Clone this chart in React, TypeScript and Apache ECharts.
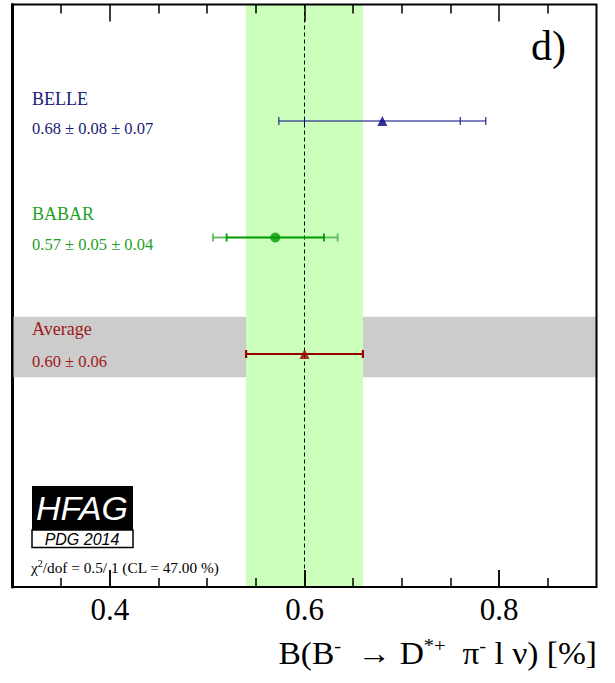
import React, { useEffect, useRef } from 'react';
import * as echarts from 'echarts';

// ---- data ----
const experiments = ['BELLE', 'BABAR', 'Average'];
const centralValues = [0.68, 0.57, 0.6];
const statErrors = [0.08, 0.05, 0.06];
const systErrors = [0.07, 0.04, 0];
const rowPositions = [4, 3, 2];
const majorTicks = [0.4, 0.6, 0.8];
const minorTicks = [0.35, 0.45, 0.5, 0.55, 0.65, 0.7, 0.75, 0.85];
const averageRowBand = [1.8, 2.32];
const xRange = [0.3, 0.9];
const yRange = [0, 5];
const chi2Value = '0.5';
const dof = '1';
const clValue = '47.00';

// ---- styles ----
const mainColors = ['#000080', '#009900', '#990000'];
const outerColors = ['#000080', '#5cbc5c', '#b01515'];
const textColors = ['#1a1a78', '#1f9f1f', '#a01818'];
const markerSymbols = ['triangle', 'circle', 'triangle'];
const lineWidths = [1, 1.8, 2];
const SERIF = '"Liberation Serif", "Times New Roman", serif';
const SANS = '"Liberation Sans", Arial, sans-serif';
const GRID_H = 582.5;
const MAJOR_LEN = 17;
const MINOR_LEN = 9;

const totalErrors = statErrors.map((s, i) => Math.sqrt(s * s + systErrors[i] * systErrors[i]));
const avgIdx = experiments.indexOf('Average');

export default function App() {
  const ref = useRef<HTMLDivElement>(null);
  useEffect(() => {
    if (!ref.current) return;
    const chart = echarts.init(ref.current, null, { renderer: 'svg' });

    const errData = experiments.map((_, i) => [
      centralValues[i],
      rowPositions[i],
      statErrors[i],
      totalErrors[i],
    ]);

    const unitsPerPx = (yRange[1] - yRange[0]) / GRID_H;
    const tickLines: any[] = [];
    const addTicks = (values: number[], len: number) => {
      values.forEach((v) => {
        tickLines.push([{ coord: [v, yRange[0]] }, { coord: [v, yRange[0] + len * unitsPerPx] }]);
        tickLines.push([{ coord: [v, yRange[1]] }, { coord: [v, yRange[1] - len * unitsPerPx] }]);
      });
    };
    addTicks(majorTicks, MAJOR_LEN);
    addTicks(minorTicks, MINOR_LEN);

    const labelGraphics: any[] = [];
    experiments.forEach((name, i) => {
      const nameY = [99.5, 214.5, 330][i];
      const valY = [129, 245.5, 362][i];
      const valText =
        systErrors[i] > 0
          ? `${centralValues[i].toFixed(2)} ± ${statErrors[i].toFixed(2)} ± ${systErrors[i].toFixed(2)}`
          : `${centralValues[i].toFixed(2)} ± ${statErrors[i].toFixed(2)}`;
      labelGraphics.push({
        type: 'text',
        left: 32,
        top: nameY - 10,
        style: { text: name, fontSize: 18, fontFamily: SERIF, fill: textColors[i] },
        z: 100,
      });
      labelGraphics.push({
        type: 'text',
        left: 32,
        top: valY - 9.5,
        style: { text: valText, fontSize: 16.5, fontFamily: SERIF, fill: textColors[i] },
        z: 100,
      });
    });

    chart.setOption({
      animation: false,
      grid: {
        left: 12.5,
        top: 4.5,
        width: 584,
        height: GRID_H,
        show: true,
        borderColor: '#000',
        borderWidth: 2,
        backgroundColor: 'transparent',
        z: 10,
      },
      xAxis: {
        type: 'value',
        min: xRange[0],
        max: xRange[1],
        z: 12,
        axisLine: { show: false },
        splitLine: { show: false },
        axisTick: {
          show: true,
          inside: true,
          length: MAJOR_LEN,
          customValues: majorTicks,
          lineStyle: { color: '#000', width: 1.5 },
        },
        axisLabel: {
          show: true,
          customValues: majorTicks,
          formatter: (v: number) => v.toFixed(1),
          fontSize: 31,
          fontFamily: SERIF,
          color: '#000',
          margin: 7,
        },
      },
      yAxis: {
        type: 'value',
        min: yRange[0],
        max: yRange[1],
        axisLine: { show: true, lineStyle: { color: '#000', width: 3 } },
        axisTick: { show: false },
        axisLabel: { show: false },
        splitLine: { show: false },
      },
      series: [
        {
          type: 'custom',
          name: 'grayBand',
          z: 1,
          silent: true,
          data: [[averageRowBand[0], averageRowBand[1]]],
          renderItem: (params: any, api: any) => {
            const cs = params.coordSys;
            const y1 = api.coord([xRange[0], api.value(1)])[1];
            const y0 = api.coord([xRange[0], api.value(0)])[1];
            return {
              type: 'rect',
              shape: { x: cs.x, y: y1, width: cs.width, height: y0 - y1 },
              style: { fill: '#cccccc' },
            };
          },
        },
        {
          type: 'custom',
          name: 'averageBand',
          z: 2,
          silent: true,
          data: [[centralValues[avgIdx] - totalErrors[avgIdx], centralValues[avgIdx] + totalErrors[avgIdx]]],
          renderItem: (params: any, api: any) => {
            const cs = params.coordSys;
            const x0 = api.coord([api.value(0), yRange[0]])[0];
            const x1 = api.coord([api.value(1), yRange[0]])[0];
            return {
              type: 'rect',
              shape: { x: x0, y: cs.y, width: x1 - x0, height: cs.height },
              style: { fill: '#ccffbb' },
            };
          },
        },
        {
          type: 'custom',
          name: 'averageLine',
          z: 3,
          silent: true,
          data: [[centralValues[avgIdx]]],
          renderItem: (params: any, api: any) => {
            const cs = params.coordSys;
            const x = api.coord([api.value(0), yRange[0]])[0];
            return {
              type: 'line',
              shape: { x1: x, y1: cs.y, x2: x, y2: cs.y + cs.height },
              style: { stroke: '#000', lineWidth: 1, lineDash: [4, 3] },
            };
          },
          markLine: {
            silent: true,
            symbol: ['none', 'none'],
            label: { show: false },
            lineStyle: { color: '#000', width: 1.5, type: 'solid' },
            data: tickLines,
          },
        },
        {
          type: 'custom',
          name: 'errors',
          z: 4,
          silent: true,
          data: errData,
          renderItem: (params: any, api: any) => {
            const i = params.dataIndex;
            const c = api.value(0);
            const y = api.value(1);
            const s = api.value(2);
            const t = api.value(3);
            const [xl, yy] = api.coord([c - t, y]);
            const xr = api.coord([c + t, y])[0];
            const xsl = api.coord([c - s, y])[0];
            const xsr = api.coord([c + s, y])[0];
            const lw = lineWidths[i];
            const h = 4;
            const mk = (x1: number, x2: number, y1: number, y2: number, col: string) => ({
              type: 'line',
              shape: { x1, y1, x2, y2 },
              style: { stroke: col, lineWidth: lw },
            });
            return {
              type: 'group',
              children: [
                mk(xl, xsl, yy, yy, outerColors[i]),
                mk(xsr, xr, yy, yy, outerColors[i]),
                mk(xsl, xsr, yy, yy, mainColors[i]),
                mk(xl, xl, yy - h, yy + h, outerColors[i]),
                mk(xr, xr, yy - h, yy + h, outerColors[i]),
                mk(xsl, xsl, yy - h, yy + h, mainColors[i]),
                mk(xsr, xsr, yy - h, yy + h, mainColors[i]),
              ],
            };
          },
        },
        ...experiments.map((_, i) => ({
          type: 'scatter',
          name: experiments[i],
          z: 5,
          silent: true,
          symbol: markerSymbols[i],
          symbolSize: 10,
          itemStyle: { color: mainColors[i] },
          data: [[centralValues[i], rowPositions[i]]],
        })),
      ],
      graphic: [
        ...labelGraphics,
        {
          type: 'text',
          right: 615 - 566,
          top: 25,
          style: { text: 'd)', fontSize: 42, fontFamily: SERIF, fill: '#000' },
          z: 100,
        },
        {
          type: 'rect',
          shape: { x: 32, y: 486, width: 101, height: 44 },
          style: { fill: '#000' },
          z: 100,
        },
        {
          type: 'text',
          x: 82,
          y: 508,
          style: {
            text: 'HFAG',
            fontSize: 34,
            fontStyle: 'italic',
            fontFamily: SANS,
            fill: '#fff',
            align: 'center',
            verticalAlign: 'middle',
          },
          z: 101,
        },
        {
          type: 'rect',
          shape: { x: 32, y: 530, width: 101, height: 17.5 },
          style: { fill: '#fff', stroke: '#000', lineWidth: 1.5 },
          z: 100,
        },
        {
          type: 'text',
          x: 82,
          y: 539,
          style: {
            text: 'PDG 2014',
            fontSize: 16,
            fontStyle: 'italic',
            fontFamily: SANS,
            fill: '#000',
            align: 'center',
            verticalAlign: 'middle',
          },
          z: 101,
        },
        {
          type: 'text',
          x: 31,
          y: 566,
          style: {
            text: `{n|χ}{s|2}{n|/dof = ${chi2Value}/ ${dof} (CL = ${clValue} %)}`,
            verticalAlign: 'middle',
            rich: {
              n: { fontSize: 15.3, fontFamily: SERIF, fill: '#000', verticalAlign: 'bottom', lineHeight: 18 },
              s: { fontSize: 10, fontFamily: SERIF, fill: '#000', verticalAlign: 'bottom', lineHeight: 11, padding: [0, 0, 7, 0] },
            },
          },
          z: 100,
        },
        {
          type: 'text',
          x: 597,
          y: 652,
          scaleX: 1.08,
          style: {
            text: '{n|B(B}{s|-}{n|  → D}{s|*+}{n|  π}{s|-}{n| l ν) [%]}',
            align: 'right',
            verticalAlign: 'middle',
            rich: {
              n: { fontSize: 31, fontFamily: SERIF, fill: '#000', verticalAlign: 'bottom', lineHeight: 34 },
              s: { fontSize: 19, fontFamily: SERIF, fill: '#000', verticalAlign: 'bottom', lineHeight: 20, padding: [0, 0, 14, 0] },
            },
          },
          z: 100,
        },
      ],
    });
    return () => chart.dispose();
  }, []);
  return <div ref={ref} style={{ position: 'absolute', left: 0, top: 0, width: 615, height: 683 }} />;
}
